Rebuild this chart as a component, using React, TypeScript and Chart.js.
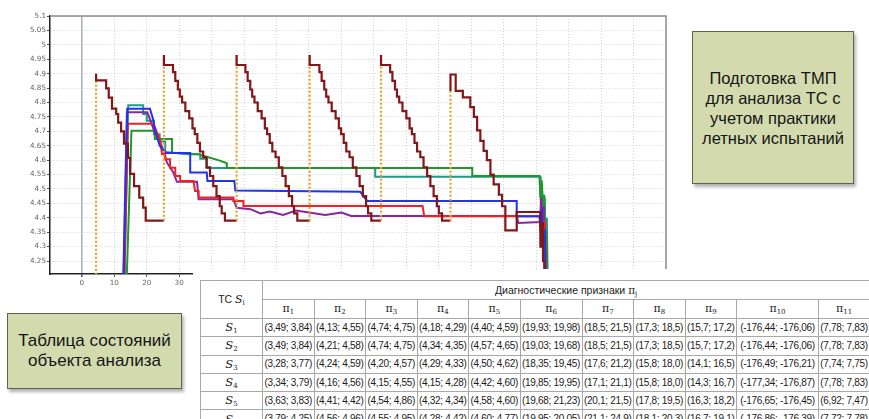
import React, { useEffect, useRef } from "react";
import { Chart, registerables } from "chart.js";

Chart.register(...registerables);

// ---------- axis ticks ----------
const xTicks = [0, 10, 20, 30, 40, 50, 60, 70, 80, 90, 100, 110, 120, 130, 140, 150, 160, 170, 180];
const yTicks = [4.25, 4.3, 4.35, 4.4, 4.45, 4.5, 4.55, 4.6, 4.65, 4.7, 4.75, 4.8, 4.85, 4.9, 4.95, 5, 5.05, 5.1];

// ---------- series (time, value) ----------
const maroonSeries: [number, number][] = [
  [4.4, 3.8], [4.4, 4.9], [7.5, 4.877], [8.3, 4.849], [9.3, 4.817], [10.6, 4.779], [11.2, 4.76], [12.1, 4.73],
  [13.0, 4.7], [14.2, 4.657], [14.9, 4.608], [16.1, 4.552], [17.7, 4.51], [18.9, 4.47], [19.7, 4.435], [21.4, 4.39],
  [25.3, 4.39], [25.3, 4.965],
  [28.1, 4.93], [28.8, 4.905], [29.6, 4.875], [30.2, 4.845], [30.9, 4.82], [31.9, 4.8], [33.1, 4.77], [34.1, 4.745],
  [34.8, 4.71], [35.6, 4.69], [36.4, 4.66], [37.4, 4.63], [38.4, 4.61], [39.5, 4.575], [40.5, 4.545], [41.5, 4.51],
  [42.5, 4.475], [43.1, 4.44], [44.1, 4.415], [44.6, 4.39], [47.7, 4.39], [47.7, 4.965],
  [50.4, 4.93], [51.1, 4.905], [51.9, 4.875], [52.5, 4.845], [53.2, 4.82], [54.2, 4.8], [55.4, 4.77], [56.4, 4.745],
  [57.1, 4.71], [57.9, 4.69], [58.7, 4.66], [59.7, 4.63], [60.7, 4.61], [61.8, 4.575], [62.8, 4.545], [63.8, 4.51],
  [64.8, 4.475], [65.4, 4.44], [66.4, 4.415], [66.9, 4.39], [70.2, 4.39], [70.2, 4.965],
  [73.2, 4.93], [73.9, 4.905], [74.7, 4.875], [75.3, 4.845], [76.0, 4.82], [77.0, 4.8], [78.2, 4.77], [79.2, 4.745],
  [79.9, 4.71], [80.7, 4.69], [81.5, 4.66], [82.5, 4.63], [83.5, 4.61], [84.6, 4.575], [85.6, 4.545], [86.6, 4.51],
  [87.6, 4.475], [88.2, 4.44], [89.2, 4.415], [89.7, 4.39], [92.2, 4.39], [92.2, 4.965],
  [95.0, 4.93], [95.7, 4.905], [96.5, 4.875], [97.1, 4.845], [97.8, 4.82], [98.8, 4.8], [100.0, 4.77], [101.0, 4.745],
  [101.7, 4.71], [102.5, 4.69], [103.3, 4.66], [104.3, 4.63], [105.3, 4.61], [106.4, 4.575], [107.4, 4.545], [108.4, 4.51],
  [109.4, 4.475], [110.0, 4.44], [111.0, 4.415], [111.5, 4.39], [113.6, 4.39], [113.6, 4.84],
  [115.2, 4.897], [117.4, 4.84], [119.7, 4.818], [120.8, 4.784], [121.8, 4.75], [122.8, 4.703], [123.8, 4.667],
  [124.8, 4.632], [125.9, 4.6], [126.9, 4.55], [128.5, 4.516], [129.5, 4.48], [130.5, 4.44], [134.0, 4.356],
  [141.3, 4.42], [141.7, 4.3], [142.1, 4.38], [142.5, 4.25], [142.9, 4.05],
];

const tealSeries: [number, number][] = [
  [12.6, 3.9], [14.3, 4.79], [18.9, 4.79], [18.9, 4.76], [20.0, 4.76], [20.0, 4.737], [22.2, 4.737], [22.2, 4.69],
  [24.0, 4.69], [24.0, 4.665], [25.7, 4.665], [25.7, 4.628], [30.0, 4.624], [33.0, 4.62], [36.5, 4.62], [36.5, 4.605],
  [38.6, 4.605], [38.6, 4.573], [90.4, 4.573], [90.4, 4.542], [141.2, 4.542],
  [141.4, 4.46], [141.8, 4.52], [142.2, 4.38], [142.6, 4.47], [143.0, 4.3], [143.3, 4.4], [143.6, 4.05],
];

const greenSeries: [number, number][] = [
  [13.0, 3.9], [15.3, 4.702], [22.5, 4.702], [22.5, 4.673], [27.8, 4.673], [27.8, 4.625], [36.0, 4.62],
  [39.0, 4.61], [42.0, 4.6], [44.6, 4.59], [44.7, 4.573], [120.3, 4.573], [120.3, 4.545], [141.0, 4.545],
  [141.3, 4.47], [141.7, 4.53], [142.1, 4.4], [142.5, 4.48], [142.9, 4.25], [143.3, 4.35], [143.6, 4.05],
];

const blueSeries: [number, number][] = [
  [12.3, 3.9], [14.0, 4.778], [21.0, 4.778], [22.0, 4.74], [22.6, 4.7], [24.0, 4.65], [25.4, 4.632], [26.0, 4.625],
  [33.4, 4.625], [33.4, 4.557], [38.5, 4.557], [38.7, 4.528], [47.0, 4.528], [47.3, 4.495], [85.8, 4.49],
  [87.9, 4.458], [134.0, 4.458], [134.0, 4.405], [141.0, 4.405],
  [141.4, 4.35], [141.8, 4.43], [142.2, 4.3], [142.7, 4.36], [143.1, 4.05],
];

const redSeries: [number, number][] = [
  [12.5, 3.9], [14.2, 4.726], [22.1, 4.726], [24.1, 4.67], [24.7, 4.621], [25.7, 4.621], [25.7, 4.603],
  [27.2, 4.603], [27.2, 4.574], [28.8, 4.574], [28.8, 4.545], [30.3, 4.545], [30.3, 4.528], [34.4, 4.528],
  [34.9, 4.493], [36.0, 4.493], [36.0, 4.47], [46.7, 4.47], [46.7, 4.458], [49.8, 4.458], [49.8, 4.441],
  [105.0, 4.441], [105.5, 4.405], [141.2, 4.405],
  [141.5, 4.33], [141.9, 4.42], [142.3, 4.28], [142.7, 4.39], [143.1, 4.05],
];

const purpleSeries: [number, number][] = [
  [12.2, 3.9], [13.9, 4.766], [20.2, 4.766], [22.1, 4.708], [24.1, 4.661], [25.0, 4.64], [26.2, 4.592],
  [28.2, 4.557], [29.3, 4.525], [35.5, 4.525], [36.0, 4.464], [46.7, 4.464], [47.7, 4.435], [52.0, 4.43],
  [55.0, 4.415], [58.0, 4.422], [62.0, 4.41], [66.0, 4.425], [70.0, 4.418], [75.0, 4.41], [80.0, 4.418],
  [83.0, 4.406], [134.0, 4.406], [134.5, 4.382], [141.2, 4.385],
  [141.5, 4.47], [141.9, 4.36], [142.3, 4.44], [142.7, 4.2], [143.1, 4.05],
];

// ---------- table ----------
const piIndices = ["1", "2", "3", "4", "5", "6", "7", "8", "9", "10", "11"];
const stateIndices = ["1", "2", "3", "4", "5", "6"];
const tableRows: string[][] = [
  ["(3,49; 3,84)", "(4,13; 4,55)", "(4,74; 4,75)", "(4,18; 4,29)", "(4,40; 4,59)", "(19,93; 19,98)", "(18,5; 21,5)", "(17,3; 18,5)", "(15,7; 17,2)", "(-176,44; -176,06)", "(7,78; 7,83)"],
  ["(3,49; 3,84)", "(4,21; 4,58)", "(4,74; 4,75)", "(4,34; 4,35)", "(4,57; 4,65)", "(19,03; 19,68)", "(18,5; 21,5)", "(17,3; 18,5)", "(15,7; 17,2)", "(-176,44; -176,06)", "(7,78; 7,83)"],
  ["(3,28; 3,77)", "(4,24; 4,59)", "(4,20; 4,57)", "(4,29; 4,33)", "(4,50; 4,62)", "(18,35; 19,45)", "(17,6; 21,2)", "(15,8; 18,0)", "(14,1; 16,5)", "(-176,49; -176,21)", "(7,74; 7,75)"],
  ["(3,34; 3,79)", "(4,16; 4,56)", "(4,15; 4,55)", "(4,15; 4,28)", "(4,42; 4,60)", "(19,85; 19,95)", "(17,1; 21,1)", "(15,8; 18,0)", "(14,3; 16,7)", "(-177,34; -176,87)", "(7,78; 7,83)"],
  ["(3,63; 3,83)", "(4,41; 4,42)", "(4,54; 4,86)", "(4,32; 4,34)", "(4,58; 4,60)", "(19,68; 21,23)", "(20,1; 21,5)", "(17,8; 19,5)", "(16,3; 18,2)", "(-176,65; -176,45)", "(6,92; 7,47)"],
  ["(3,79; 4,25)", "(4,56; 4,96)", "(4,55; 4,95)", "(4,28; 4,42)", "(4,60; 4,77)", "(19,95; 20,05)", "(21,1; 24,9)", "(18,1; 20,3)", "(16,7; 19,1)", "(-176,86; -176,39)", "(7,72; 7,78)"],
];
const tableHeadLeft = "ТС";
const tableHeadTop = "Диагностические признаки";
const colWidths = [62, 51.5, 51.5, 51.5, 51.5, 51.5, 62, 51.5, 51.5, 51.5, 82, 51];

const rightBoxLines = ["Подготовка ТМП", "для анализа ТС с", "учетом практики", "летных испытаний"];
const leftBoxLines = ["Таблица состояний", "объекта анализа"];

const COLORS = {
  maroon: "#831616",
  rise: "#e6a12a",
  teal: "#1f9a8a",
  green: "#22962a",
  blue: "#2233ee",
  red: "#ee2222",
  purple: "#8a259e",
};

const toPts = (a: [number, number][]) => a.map(([x, y]) => ({ x, y }));

const framePlugin = {
  id: "frame",
  beforeDatasetsDraw(chart: any) {
    const { ctx, chartArea: a } = chart;
    ctx.save();
    ctx.strokeStyle = "#8c8c8c";
    ctx.lineWidth = 1.5;
    ctx.beginPath();
    ctx.moveTo(a.left, a.top);
    ctx.lineTo(a.right, a.top);
    ctx.lineTo(a.right, a.bottom);
    ctx.stroke();
    ctx.restore();
  },
};

const serif = "'DejaVu Serif', 'Liberation Serif', serif";
const subStyle: React.CSSProperties = { fontSize: 7, verticalAlign: "-2px", lineHeight: 0, fontFamily: serif, letterSpacing: 0 };

export default function App() {
  const ref = useRef<HTMLCanvasElement | null>(null);

  useEffect(() => {
    if (!ref.current) return;
    const isRise = (ctx: any) => ctx.p1.parsed.y - ctx.p0.parsed.y > 0.1;
    const lineDs = (label: string, data: [number, number][], color: string) => ({
      label,
      data: toPts(data),
      borderColor: color,
      borderWidth: 2,
      pointRadius: 0,
      fill: false,
      tension: 0,
    });
    const chart = new Chart(ref.current, {
      type: "line",
      data: {
        datasets: [
          {
            ...lineDs("maroon", maroonSeries, COLORS.maroon),
            stepped: "after",
            borderWidth: 2.2,
            segment: {
              borderColor: (ctx: any) => (isRise(ctx) ? COLORS.rise : undefined),
              borderDash: (ctx: any) => (isRise(ctx) ? [2, 2] : undefined),
            },
          } as any,
          lineDs("blue", blueSeries, COLORS.blue),
          lineDs("red", redSeries, COLORS.red),
          lineDs("purple", purpleSeries, COLORS.purple),
          lineDs("green", greenSeries, COLORS.green),
          lineDs("teal", tealSeries, COLORS.teal),
        ],
      },
      options: {
        animation: false,
        responsive: false,
        maintainAspectRatio: false,
        parsing: false as any,
        layout: { padding: { top: 16, right: 14, left: 0, bottom: 0 } },
        plugins: { legend: { display: false }, tooltip: { enabled: false }, title: { display: false } },
        scales: {
          x: {
            type: "linear",
            min: -9.8,
            max: 180,
            afterBuildTicks: (s: any) => {
              s.ticks = xTicks.map((v) => ({ value: v }));
            },
            afterFit: (s: any) => {
              s.height = 26;
            },
            ticks: {
              color: "#666",
              font: { family: "'DejaVu Sans', sans-serif", size: 7.2 },
              padding: 2,
              maxRotation: 0,
              autoSkip: false,
              callback: (v: any) => String(v),
            },
            grid: {
              color: (c: any) => (c.tick && c.tick.value === 0 ? "#aab2c0" : "#d2d2d2"),
              lineWidth: (c: any) => (c.tick && c.tick.value === 0 ? 1.6 : 1),
              tickLength: 3,
              tickColor: "#555",
            },
            border: {
              color: "#222",
              width: 1.5,
              dash: (c: any) => (c.tick && c.tick.value === 0 ? [] : [1, 2]),
            } as any,
          },
          y: {
            type: "linear",
            min: 4.205,
            max: 5.1,
            afterBuildTicks: (s: any) => {
              s.ticks = yTicks.map((v) => ({ value: v }));
            },
            afterFit: (s: any) => {
              s.width = 50;
            },
            ticks: {
              color: "#666",
              font: { family: "'DejaVu Sans', sans-serif", size: 7.2 },
              padding: 1,
              callback: (v: any) => String(Math.round(Number(v) * 100) / 100),
            },
            grid: {
              color: "#d2d2d2",
              lineWidth: 1,
              tickLength: 3,
              tickColor: "#555",
            },
            border: { color: "#222", width: 1.5, dash: [1, 2] } as any,
          },
        },
      },
      plugins: [framePlugin],
    });
    return () => chart.destroy();
  }, []);

  const cell: React.CSSProperties = {
    border: "1px solid #a8a8a8",
    padding: 0,
    textAlign: "center",
    verticalAlign: "middle",
    whiteSpace: "nowrap",
    overflow: "hidden",
    lineHeight: "12px",
  };

  const boxBase: React.CSSProperties = {
    position: "absolute",
    background: "#d3dbae",
    border: "1px solid #5f6350",
    boxShadow: "2px 3px 3px rgba(0,0,0,0.3)",
    display: "flex",
    flexDirection: "column",
    justifyContent: "center",
    alignItems: "center",
    fontFamily: "'Liberation Sans', Arial, sans-serif",
    color: "#151515",
    boxSizing: "border-box",
  };

  return (
    <div style={{ position: "absolute", left: 0, top: 0, width: 869, height: 419, background: "#fff", overflow: "hidden" }}>
      <canvas ref={ref} width={680} height={300} style={{ position: "absolute", left: 0, top: 0, width: 680, height: 300 }} />
      <div style={{ position: "absolute", left: 193, top: 269, width: 676, height: 150, background: "#fff" }} />
      <table
        style={{
          position: "absolute",
          left: 200,
          top: 280,
          width: 669,
          borderCollapse: "collapse",
          tableLayout: "fixed",
          fontFamily: "'Liberation Sans', Arial, sans-serif",
          fontSize: 10,
          letterSpacing: "-0.3px",
          color: "#1b1b1b",
          background: "#fff",
        }}
      >
        <colgroup>
          {colWidths.map((w, i) => (
            <col key={i} style={{ width: w }} />
          ))}
        </colgroup>
        <tbody>
          <tr style={{ height: 19 }}>
            <td rowSpan={2} style={{ ...cell, fontSize: 10.5, letterSpacing: 0 }}>
              {tableHeadLeft} <i style={{ fontFamily: serif, fontSize: 11 }}>S</i>
              <sub style={subStyle}>i</sub>
            </td>
            <td colSpan={11} style={{ ...cell, fontSize: 10.5, letterSpacing: 0 }}>
              {tableHeadTop} <span style={{ fontFamily: serif }}>π</span>
              <sub style={subStyle}>j</sub>
            </td>
          </tr>
          <tr style={{ height: 19 }}>
            {piIndices.map((p) => (
              <td key={p} style={{ ...cell, letterSpacing: 0 }}>
                <span style={{ fontFamily: serif, fontSize: 11 }}>π</span>
                <sub style={subStyle}>{p}</sub>
              </td>
            ))}
          </tr>
          {tableRows.map((row, r) => (
            <tr key={r} style={{ height: 18.3 }}>
              <td style={{ ...cell, letterSpacing: 0 }}>
                <i style={{ fontFamily: serif, fontSize: 11.5 }}>S</i>
                <sub style={subStyle}>{stateIndices[r]}</sub>
              </td>
              {row.map((c, k) => (
                <td key={k} style={cell}>
                  {c}
                </td>
              ))}
            </tr>
          ))}
        </tbody>
      </table>
      <div style={{ ...boxBase, left: 692, top: 31, width: 162, height: 153, fontSize: 16.5, lineHeight: "20px" }}>
        {rightBoxLines.map((l, i) => (
          <div key={i}>{l}</div>
        ))}
      </div>
      <div style={{ ...boxBase, left: 7, top: 313, width: 175, height: 76, fontSize: 17, lineHeight: "20px" }}>
        {leftBoxLines.map((l, i) => (
          <div key={i}>{l}</div>
        ))}
      </div>
    </div>
  );
}
